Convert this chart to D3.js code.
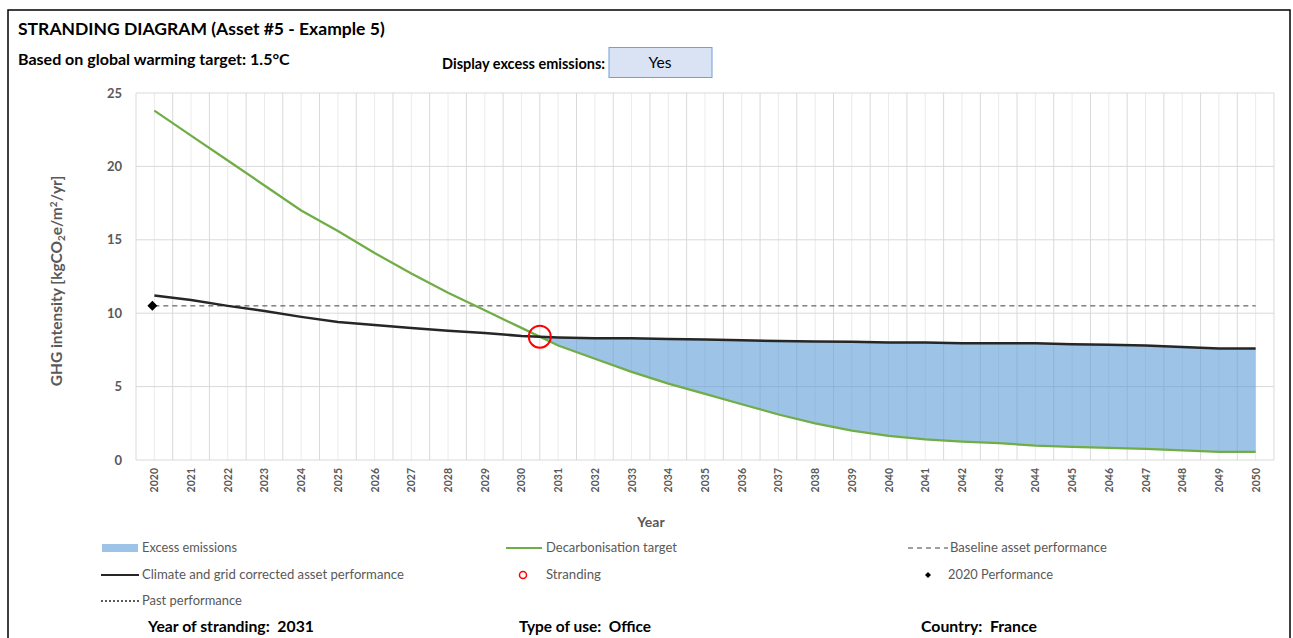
<!DOCTYPE html>
<html><head><meta charset="utf-8">
<script src="https://cdn.jsdelivr.net/npm/d3@7"></script>
<style>body{margin:0;background:#fff;} svg{display:block;font-family:Lato,"Open Sans",sans-serif;} text{white-space:pre;}</style>
</head><body>
<svg id="c" width="1293" height="638"></svg>
<script>
const years = d3.range(2020, 2051);
const yTicks = [0, 5, 10, 15, 20, 25];
const target = [23.8, 22.1, 20.4, 18.7, 17.0, 15.6, 14.1, 12.7, 11.4, 10.2, 9.0, 7.8, 6.9, 6.0, 5.2, 4.5, 3.8, 3.1, 2.5, 2.0, 1.65, 1.4, 1.25, 1.15, 0.98, 0.9, 0.83, 0.75, 0.65, 0.55, 0.55];
const corrected = [11.2, 10.9, 10.5, 10.15, 9.75, 9.4, 9.2, 9.0, 8.8, 8.65, 8.45, 8.35, 8.3, 8.3, 8.25, 8.2, 8.15, 8.1, 8.08, 8.05, 8.0, 8.0, 7.95, 7.95, 7.95, 7.88, 7.85, 7.8, 7.7, 7.6, 7.6];
const baseline = 10.5;
const perf2020 = {year: 2020, value: 10.5};
const legendItems = [
  {label: "Excess emissions", type: "rect"},
  {label: "Decarbonisation target", type: "green"},
  {label: "Baseline asset performance", type: "dash"},
  {label: "Climate and grid corrected asset performance", type: "black"},
  {label: "Stranding", type: "circle"},
  {label: "2020 Performance", type: "diamond"},
  {label: "Past performance", type: "dot"}
];

const svg = d3.select("#c");
const L = 136, R = 1274, T = 93, B = 460;
const x = d3.scaleLinear().domain([2019.5, 2050.5]).range([L, R]);
const y = d3.scaleLinear().domain([0, 25]).range([B, T]);

function fit(sel, w) {
  const n = sel.node();
  const cur = n.getComputedTextLength();
  const fs = parseFloat(sel.attr("font-size"));
  if (cur > 0) sel.attr("font-size", (fs * w / cur).toFixed(2));
  return sel;
}

// outer border
svg.append("rect").attr("x", 8).attr("y", 10).attr("width", 1282).attr("height", 640)
  .attr("fill", "none").attr("stroke", "#000").attr("stroke-width", 1.5);

// header texts
fit(svg.append("text").attr("x", 18).attr("y", 35).attr("font-size", 16).attr("font-weight", "bold").attr("fill", "#000")
  .text("STRANDING DIAGRAM (Asset #5 - Example 5)"), 367);
fit(svg.append("text").attr("x", 18).attr("y", 65).attr("font-size", 14).attr("font-weight", "bold").attr("fill", "#000")
  .text("Based on global warming target: 1.5°C"), 272);
fit(svg.append("text").attr("x", 605).attr("y", 69).attr("font-size", 13.5).attr("font-weight", "bold").attr("fill", "#000")
  .attr("text-anchor", "end").text("Display excess emissions:"), 163);
svg.append("rect").attr("x", 609).attr("y", 47.5).attr("width", 103).attr("height", 30)
  .attr("fill", "#dae3f3").attr("stroke", "#6fa0d8").attr("stroke-width", 1);
fit(svg.append("text").attr("x", 660).attr("y", 68).attr("font-size", 13.5).attr("text-anchor", "middle").attr("fill", "#000").text("Yes"), 23);

// gridlines
const g = svg.append("g");
const halfSteps = d3.range(0, 63).map(i => 2019.5 + i * 0.5);
g.selectAll("line.v").data(halfSteps).join("line")
  .attr("x1", d => x(d)).attr("x2", d => x(d)).attr("y1", T).attr("y2", B)
  .attr("stroke", d => (d % 1 === 0.5) ? "#d9d9d9" : "#ebebeb").attr("stroke-width", 1);
g.selectAll("line.h").data(yTicks).join("line")
  .attr("x1", L).attr("x2", R).attr("y1", d => y(d)).attr("y2", d => y(d))
  .attr("stroke", "#d9d9d9").attr("stroke-width", 1);

// y axis labels
const yAxis = d3.axisLeft(y).tickValues(yTicks).tickSize(0).tickPadding(14);
const ya = svg.append("g").attr("transform", `translate(${L},0)`).call(yAxis);
ya.select(".domain").remove();
ya.selectAll("text").attr("font-size", 13).attr("font-weight", "bold").attr("fill", "#595959").attr("font-family", "Lato");

// x axis labels
const xa = svg.append("g");
xa.selectAll("text").data(years).join("text")
  .attr("transform", d => `translate(${x(d) + 4},468) rotate(-90)`)
  .attr("text-anchor", "end").attr("font-size", 10.5).attr("font-weight", "bold").attr("fill", "#595959")
  .text(d => d);

svg.append("text").attr("x", 651).attr("y", 527).attr("text-anchor", "middle").attr("font-size", 14).attr("font-weight", "bold")
  .attr("fill", "#595959").text("Year");

const yt = svg.append("text").attr("transform", `translate(62,281) rotate(-90)`).attr("text-anchor", "middle")
  .attr("font-size", 15.5).attr("font-weight", "bold").attr("fill", "#595959");
yt.append("tspan").text("GHG intensity [kgCO");
yt.append("tspan").attr("font-size", 10).attr("dy", 3).text("2");
yt.append("tspan").attr("dy", -3).text("e/m");
yt.append("tspan").attr("font-size", 10).attr("dy", -5).text("2");
yt.append("tspan").attr("dy", 5).text("/yr]");

// stranding point: intersection of target and corrected
let sx = null, sv = null, si = 0;
for (let i = 0; i < years.length - 1; i++) {
  const d0 = target[i] - corrected[i], d1 = target[i + 1] - corrected[i + 1];
  if (d0 >= 0 && d1 < 0) {
    const t = d0 / (d0 - d1);
    sx = years[i] + t; sv = corrected[i] + t * (corrected[i + 1] - corrected[i]); si = i + 1; break;
  }
}

// excess fill
const fillData = [{yr: sx, top: sv, bot: sv}].concat(years.slice(si).map((yr, k) => ({yr, top: corrected[si + k], bot: target[si + k]})));
svg.append("path").datum(fillData)
  .attr("d", d3.area().x(d => x(d.yr)).y0(d => y(d.bot)).y1(d => y(d.top)))
  .attr("fill", "#5b9bd5").attr("fill-opacity", 0.6);

// baseline dashed
svg.append("line").attr("x1", x(2020)).attr("x2", x(2050)).attr("y1", y(baseline)).attr("y2", y(baseline))
  .attr("stroke", "#404040").attr("stroke-width", 1).attr("stroke-dasharray", "5,4");

// lines
const line = d3.line().x((d, i) => x(years[i])).y(d => y(d));
svg.append("path").datum(target).attr("d", line).attr("fill", "none").attr("stroke", "#70ad47").attr("stroke-width", 2.25);
svg.append("path").datum(corrected).attr("d", line).attr("fill", "none").attr("stroke", "#262626").attr("stroke-width", 2.5);

// 2020 performance diamond
svg.append("path").attr("d", d3.symbol(d3.symbolSquare, 50)())
  .attr("transform", `translate(${x(perf2020.year) - 2},${y(perf2020.value)}) rotate(45)`).attr("fill", "#000");

// stranding circle
svg.append("circle").attr("cx", x(sx)).attr("cy", y(sv)).attr("r", 11)
  .attr("fill", "none").attr("stroke", "#ff0000").attr("stroke-width", 2);

// legend
const cols = [102, 506, 908], rows = [548, 575, 601];
const legW = [95, 131, 157, 262, 55, 105, 100];
legendItems.forEach((it, i) => {
  const cx = cols[i % 3], cy = rows[Math.floor(i / 3)];
  const lg = svg.append("g");
  if (it.type === "rect") lg.append("rect").attr("x", cx).attr("y", cy - 4).attr("width", 36).attr("height", 8).attr("fill", "#9dc3e6");
  if (it.type === "green") lg.append("line").attr("x1", cx).attr("x2", cx + 36).attr("y1", cy).attr("y2", cy).attr("stroke", "#70ad47").attr("stroke-width", 2);
  if (it.type === "black") lg.append("line").attr("x1", cx - 1).attr("x2", cx + 37).attr("y1", cy).attr("y2", cy).attr("stroke", "#262626").attr("stroke-width", 2);
  if (it.type === "dash") lg.append("line").attr("x1", cx).attr("x2", cx + 40).attr("y1", cy).attr("y2", cy).attr("stroke", "#404040").attr("stroke-width", 1).attr("stroke-dasharray", "5,4");
  if (it.type === "dot") lg.append("line").attr("x1", cx - 1).attr("x2", cx + 37).attr("y1", cy).attr("y2", cy).attr("stroke", "#262626").attr("stroke-width", 1.5).attr("stroke-dasharray", "2,2");
  if (it.type === "circle") lg.append("circle").attr("cx", cx + 17).attr("cy", cy).attr("r", 3.5).attr("fill", "none").attr("stroke", "#ff0000").attr("stroke-width", 1.5);
  if (it.type === "diamond") lg.append("path").attr("d", d3.symbol(d3.symbolSquare, 18)()).attr("transform", `translate(${cx + 20},${cy}) rotate(45)`).attr("fill", "#000");
  const tx = it.type === "dash" ? cx + 42 : cx + 40;
  fit(lg.append("text").attr("x", tx).attr("y", cy + 4).attr("font-size", 12).attr("fill", "#595959").text(it.label), legW[i]);
});

// bottom info
const info = [{x: 148, t: "Year of stranding:  2031", w: 166}, {x: 519, t: "Type of use:  Office", w: 132}, {x: 921, t: "Country:  France", w: 116}];
info.forEach(d => {
  fit(svg.append("text").attr("x", d.x).attr("y", 632).attr("font-size", 14.5).attr("font-weight", "bold").attr("fill", "#000").text(d.t), d.w);
});
</script>
</body></html>
